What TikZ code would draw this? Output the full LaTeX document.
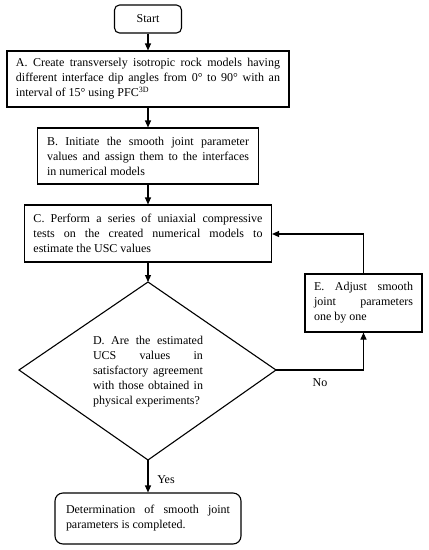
\documentclass[tikz,border=0pt]{standalone}
\usepackage{fontspec}
\setmainfont{Liberation Serif}
\usetikzlibrary{arrows.meta}
\tikzset{
  box/.style={draw, line width=1.1pt, inner sep=0pt, align=justify,
    font=\fontsize{12}{15}\selectfont},
  roundbox/.style={box, rounded corners=5pt},
  arr/.style={line width=1.1pt, -{Triangle[length=7pt,width=6pt]}},
  lbl/.style={font=\fontsize{12}{15}\selectfont, inner sep=0pt}
}
\begin{document}
\begin{tikzpicture}[x=1pt,y=-1pt]
\useasboundingbox (0,0) rectangle (429,550);
\node[roundbox, minimum width=67pt, minimum height=28pt, align=center] (s) at (148,19) {Start};
\node[box, minimum width=282pt, minimum height=56pt, text width=264pt] (a) at (148,79)
 {\tolerance=10000 A. Create transversely isotropic rock models having\linebreak different interface dip angles from 0° to 90° with an\linebreak interval of 15° using PFC\textsuperscript{3D}};
\node[box, minimum width=221pt, minimum height=56pt, text width=202pt] (b) at (148,156)
 {\tolerance=10000 B. Initiate the smooth joint parameter\linebreak values and assign them to the interfaces\linebreak in numerical models};
\node[box, minimum width=247pt, minimum height=57pt, text width=229pt] (c) at (148,233.5)
 {\tolerance=10000 C. Perform a series of uniaxial compressive\linebreak tests on the created numerical models to\linebreak estimate the USC values};
\coordinate (dt) at (148,282);
\coordinate (dl) at (19,370);
\coordinate (dr) at (276,370);
\coordinate (db) at (148,460);
\draw[line width=1.1pt] (dt) -- (dr) -- (db) -- (dl) -- cycle;
\node[lbl, text width=110pt, align=justify] (d) at (148,372)
 {\tolerance=10000 D. Are the estimated\linebreak UCS values in\linebreak satisfactory agreement\linebreak with those obtained in\linebreak physical experiments?};
\node[box, minimum width=117pt, minimum height=58pt, text width=99pt] (e) at (363.5,303)
 {\tolerance=10000 E. Adjust smooth\linebreak joint parameters\linebreak one by one};
\node[roundbox, rounded corners=8pt, minimum width=186pt, minimum height=51pt, text width=164pt] (f) at (148,518.5)
 {\tolerance=10000 Determination of smooth joint\linebreak parameters is completed.};
\draw[arr] (s) -- (a);
\draw[arr] (a) -- (b);
\draw[arr] (b) -- (c);
\draw[arr] (c) -- (dt);
\draw[arr] (db) -- (f);
\draw[arr] (dr) -| (e.south);
\draw[arr] (e.north) |- (c.east |- 0,234);
\node[lbl] (yes) at (166,480) {Yes};
\node[lbl] (no) at (320,383) {No};
\end{tikzpicture}
\end{document}
